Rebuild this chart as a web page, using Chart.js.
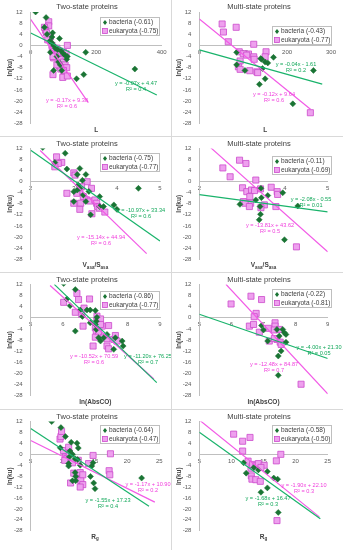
<!DOCTYPE html>
<html>
<head>
<meta charset="utf-8">
<script src="https://cdn.jsdelivr.net/npm/chart.js@4.4.0/dist/chart.umd.min.js"></script>
<style>
  body { margin: 0; background: #fff; }
  #grid {
    display: grid;
    grid-template-columns: 171px 171px;
    grid-template-rows: 136px 135px 136px 140px;
    gap: 1px;
    background: #d9d9d9;
    width: 343px;
    height: 550px;
  }
  .cell { background: #fff; }
  canvas { display: block; }
</style>
</head>
<body>
<div id="grid">
  <div class="cell"><canvas id="c0"></canvas></div>
  <div class="cell"><canvas id="c1"></canvas></div>
  <div class="cell"><canvas id="c2"></canvas></div>
  <div class="cell"><canvas id="c3"></canvas></div>
  <div class="cell"><canvas id="c4"></canvas></div>
  <div class="cell"><canvas id="c5"></canvas></div>
  <div class="cell"><canvas id="c6"></canvas></div>
  <div class="cell"><canvas id="c7"></canvas></div>
</div>
<script>
// ---- data ----
const panelTitles = ["Two-state proteins", "Multi-state proteins", "Two-state proteins", "Multi-state proteins",
  "Two-state proteins", "Multi-state proteins", "Two-state proteins", "Multi-state proteins"]
const yTitle = "ln(ku)"
// x axis titles, [text, isSubscript]
const xTitles = [
  [["L"]], [["L"]],
  [["V"], ["asa", 1], ["/S"], ["asa", 1]], [["V"], ["asa", 1], ["/S"], ["asa", 1]],
  [["ln(AbsCO)"]], [["ln(AbsCO)"]],
  [["R"], ["g", 1]], [["R"], ["g", 1]]
]
const xMin = [0, 0, 2, 2, 5, 5, 5, 5]
const xMax = [400, 300, 5, 5, 9, 9, 25, 25]
const xStep = [200, 100, 1, 1, 1, 1, 5, 5]
const yMin = -28, yMax = 12, yStep = 4

const bacteriaLabels = ["bacteria (-0.61)", "bacteria (-0.43)", "bacteria (-0.75)", "bacteria (-0.11)",
  "bacteria (-0.86)", "bacteria (-0.22)", "bacteria (-0.64)", "bacteria (-0.58)"]
const eukaryotaLabels = ["eukaryota (-0.75)", "eukaryota (-0.77)", "eukaryota (-0.77)", "eukaryota (-0.69)",
  "eukaryota (-0.77)", "eukaryota (-0.81)", "eukaryota (-0.47)", "eukaryota (-0.50)"]

const bacteriaEq = ["y = -0.07x + 4.47", "y = -0.04x - 1.61", "y = -10.97x + 33.34", "y = -2.08x - 0.55",
  "y = -11.20x + 76.25", "y = -4.00x + 21.30", "y = -1.55x + 17.23", "y = -1.68x + 16.47"]
const bacteriaR2 = ["R² = 0.4", "R² = 0.2", "R² = 0.6", "R² = 0.01", "R² = 0.7", "R² = 0.05", "R² = 0.4", "R² = 0.3"]
const eukaryotaEq = ["y = -0.17x + 9.38", "y = -0.12x + 9.64", "y = -15.14x + 44.94", "y = -13.81x + 43.62",
  "y = -10.52x + 70.59", "y = -12.48x + 84.87", "y = -1.17x + 10.90", "y = -1.90x + 22.10"]
const eukaryotaR2 = ["R² = 0.6", "R² = 0.6", "R² = 0.6", "R² = 0.5", "R² = 0.6", "R² = 0.7", "R² = 0.2", "R² = 0.3"]

// trendlines: slope, intercept, x from, x to
const bacteriaFit = [[-0.058, 4.47, 0, 385], [-0.044, -1.61, 0, 280], [-10.97, 33.34, 2, 5], [-2.08, -0.55, 2, 5],
  [-11.20, 76.25, 5.73, 8.9], [-4.00, 21.30, 5, 9], [-1.55, 17.23, 5, 23.4], [-1.68, 16.47, 5, 23.85]]
const eukaryotaFit = [[-0.17, 9.38, 0, 176], [-0.128, 9.5, 0, 254], [-15.14, 44.94, 2.22, 4.69], [-13.81, 43.62, 2.27, 5],
  [-10.52, 70.59, 5.6, 8.81], [-12.48, 84.87, 5.83, 9], [-1.17, 10.90, 5, 24.3], [-1.90, 22.10, 5, 23.7]]

const twoL_bac = [[15,12],[47,10],[42,6.5],[67,4.5],[50,4],[65,3],[88,2.5],[58,1.5],[64,1],[70,0],[75,-1],[82,-1.5],
  [93,-2],[60,-2.5],[100,-3],[105,-3.5],[80,-4],[110,-5],[85,-6],[90,-7],[70,-9],[95,-9],[140,-12],[162,-10.5],
  [168,-2.5],[318,-8.5],[112,-4]]
const twoL_euk = [[55,8.5],[55,7],[45,5.5],[42,6.5],[48,4.5],[60,3],[52,2],[65,0],[66,-1.5],[72,-1],[80,-1],[88,-2],
  [95,-3],[100,-2.5],[108,-3],[112,0],[70,-4.5],[68,-4],[90,-5],[100,-6],[105,-7],[88,-7.5],[92,-8.5],[110,-8],
  [100,-9],[68,-10.5],[98,-11.5],[112,-11],[80,-7]]

const multiL_bac = [[85,-2.5],[85,-7],[104,-9],[137,-14],[142,-5],[150,-12],[150,-6],[156,-6.3],[169,-4.3],[213,-21],
  [260,-9],[144,-8.3],[140,-4.7]]
const multiL_euk = [[52,7.7],[55,4.8],[66,1.3],[84,6.5],[91,-2.3],[93,-5.6],[89,-7.7],[93,-8.6],[112,-3.1],[115,-9.1],
  [124,0.4],[124,-4.1],[125,-5],[131,-9.5],[133,-9.8],[152,-2.3],[150,-4.1],[253,-24.2],[100,-3],[108,-3.5]]

const twoV_bac = [[2.28,12.4],[2.8,10.3],[2.56,7],[2.84,4.6],[3.14,4.8],[3.08,2.6],[3.28,2.6],[3.1,-1.2],[3.0,-3.6],
  [3.08,-3],[3.22,-4.8],[3.28,-7.2],[3.6,-5.4],[3.6,-9],[3.69,-9],[3.93,-8.4],[4.0,-10],[3.39,-12],[4.5,-2.4],
  [3.14,-2.4],[3.0,-7.2],[3.2,0.5],[3.35,-3.5]]
const twoV_euk = [[2.6,9],[2.72,7],[2.64,6.6],[2.56,5.4],[3.0,3.2],[3.03,2.4],[3.31,0],[3.18,-1.8],[3.14,-3.6],
  [3.07,-4.2],[2.84,-4.2],[3.41,-2.4],[3.22,-5.4],[3.3,-6.6],[3.38,-7],[3.49,-6.6],[3.53,-7.8],[3.55,-9],[3.59,-9.6],
  [3.0,-7.8],[3.16,-7.8],[3.14,-10],[3.42,-11.6],[3.72,-11]]

const multiV_bac = [[2.95,-8.2],[3.32,-6.6],[3.44,-2.4],[3.45,-5.8],[3.42,-9],[3.43,-11.8],[3.4,-13.8],[3.95,-4],
  [3.99,-21],[4.3,-8.8],[3.6,-5]]
const multiV_euk = [[2.55,5],[2.72,1.8],[2.94,7.8],[3.09,6.6],[3.01,-2.2],[3.11,-3.6],[3.22,-3],[3.29,-3.2],[3.18,-5.4],
  [3.2,-7.8],[3.03,-7.2],[3.07,-7.8],[3.17,-9],[3.32,0.6],[3.43,-2.6],[3.52,-8.4],[3.68,-2],[3.82,-3.6],[3.83,-4.6],
  [3.79,-9],[4.27,-23.6],[3.44,-9.4]]

const twoA_bac = [[6.02,12.4],[6.38,10.2],[6.12,6.8],[6.22,4.4],[6.53,2.8],[6.74,2.8],[6.84,2.8],[7.0,2.6],[7.05,0.2],
  [6.38,-4.8],[6.84,-1.8],[7.0,-2.4],[7.03,-4.2],[7.1,-7.2],[7.16,-8.4],[7.26,-7.2],[7.36,-6],[7.62,-7.2],[7.57,-11.4],
  [7.83,-8.4],[7.86,-10.2],[7.03,-1.2],[6.6,0.5]]
const twoA_euk = [[6.02,5.6],[6.43,8.8],[6.48,6.6],[6.82,6.8],[6.38,2],[6.58,1.2],[6.62,-3],[7.05,0.6],[7.05,-1.2],
  [7.16,-0.4],[7.21,-3],[7.0,-3.6],[7.03,-4.8],[7.1,-5.2],[7.41,-2.8],[7.0,-7],[7.26,-7],[7.36,-7.6],[7.57,-7.8],
  [7.62,-6.4],[7.67,-8.4],[7.36,-10.2],[7.41,-11.2],[6.93,-10.2],[7.16,-2.4],[6.65,3.5]]

const multiA_bac = [[6.94,-2.8],[7.0,-4.4],[7.13,-8.4],[7.6,-4.2],[7.49,-6.6],[7.65,-5.4],[7.7,-6],[7.7,-8.8],
  [7.55,-12],[7.46,-13.8],[7.46,-20.8],[7.42,-4.2]]
const multiA_euk = [[5.99,5],[6.61,7.8],[6.94,6.6],[6.77,1.6],[6.71,0.4],[6.56,-3],[6.69,-2.4],[6.87,-5.2],[7.15,-3.8],
  [7.18,-8.4],[7.36,-1.8],[7.36,-3],[7.34,-4.4],[7.42,-7.8],[7.49,-4.2],[7.52,-8.8],[7.55,-9.6],[8.17,-24],[7.34,-7.5]]

const twoR_bac = [[8.26,12],[9.7,9.8],[10.4,6.5],[11.3,4.4],[12.2,4.1],[12.4,2.3],[9.6,2.4],[11.1,1.2],[11.5,0],
  [11.0,-1],[11.9,-1.6],[12.3,-1.9],[10.9,-3.4],[10.9,-4.3],[12.7,-4],[14.5,-4.3],[14.3,-8.1],[14.7,-3.1],[11.9,-6.7],
  [12.0,-8.1],[11.5,-9.7],[12,-9.7],[14.8,-10.5],[15,-12.6],[22.25,-8.7]]
const twoR_euk = [[9.56,5.6],[9.7,6.5],[9.8,8.4],[10.1,1.4],[10.4,-1],[10.6,-1.6],[10.3,-2.2],[10.9,2.6],[12.4,-2.2],
  [11.5,-3.1],[11.7,-6.9],[11.2,-10.5],[12.7,-6.7],[12.7,-9.1],[12.8,-9.6],[13.1,-11.1],[12.7,-12],[13.1,-7.5],
  [14,-3.4],[14.7,-0.4],[17.4,0.2],[17.2,-6],[17.3,-7.5],[11.0,0.5]]

const multiR_bac = [[11.9,-3.1],[12.3,-6.9],[13.5,-4.8],[14.2,-5.7],[15.6,-6.3],[14.6,-13.9],[15.6,-12.3],[16.6,-8.7],
  [17.2,-9.1],[17.3,-21.3]]
const multiR_euk = [[10.35,7.4],[11.75,4.8],[12.9,6.2],[11.75,1.2],[12.6,-2.5],[13.05,-5.1],[13.3,-3.7],[13.8,-4.2],
  [14.2,-3.4],[15.1,-4],[13.1,-7.9],[13.2,-9.1],[13.8,-9.3],[14.5,-9.9],[17,-2.4],[17.7,0],[17.1,-24.3],[14.6,-4.8]]

const bacteriaSets = [twoL_bac, multiL_bac, twoV_bac, multiV_bac, twoA_bac, multiA_bac, twoR_bac, multiR_bac]
const eukaryotaSets = [twoL_euk, multiL_euk, twoV_euk, multiV_euk, twoA_euk, multiA_euk, twoR_euk, multiR_euk]

// ---- layout (pixels inside each panel) ----
const cellW = 171
const cellH = [136, 136, 135, 135, 136, 136, 140, 140]
const plotBox = [[30.7, 161.7, 12, 123.3], [27.3, 159, 12, 123.3], [30.7, 160, 11, 122], [27.3, 155.7, 11, 122],
  [30.7, 160, 11.3, 122.3], [27.3, 155.7, 11.3, 122.3], [30.7, 159.3, 9.3, 120.7], [27.3, 155.7, 9.3, 120.7]]
const legendTop = [17, 26, 16, 19, 18, 16, 15, 15]
const bacEqPos = [[136, 83], [124, 64], [141, 73], [139, 62], [148, 83], [147, 74], [108, 90], [96, 88]]
const eukEqPos = [[67, 100], [102, 94], [101, 100], [98, 88], [94, 83], [102, 91], [148, 74], [132, 75]]

const FONT = "'Liberation Sans', Arial, sans-serif"
const GREEN_PT = "#1a7434"
const GREEN_LINE = "#19b36b"
const GREEN_TXT = "#12a85a"
const PINK_FILL = "#eea0ee"
const PINK_EDGE = "#cc4acc"
const PINK_LINE = "#f25ae6"
const PINK_TXT = "#f03cdc"

function toPoints(arr) {
  return arr.map(p => ({ x: p[0], y: p[1] }))
}

function fitLine(f) {
  return [{ x: f[2], y: f[0] * f[2] + f[1] }, { x: f[3], y: f[0] * f[3] + f[1] }]
}

function drawRich(ctx, parts, cx, cy, size) {
  let w = 0
  parts.forEach(p => {
    ctx.font = `bold ${p[1] ? size * 0.7 : size}px ${FONT}`
    w += ctx.measureText(p[0]).width
  })
  let x = cx - w / 2
  ctx.textAlign = "left"
  ctx.textBaseline = "middle"
  parts.forEach(p => {
    const s = p[1] ? size * 0.7 : size
    ctx.font = `bold ${s}px ${FONT}`
    ctx.fillText(p[0], x, p[1] ? cy + size * 0.3 : cy)
    x += ctx.measureText(p[0]).width
  })
}

function drawDiamond(ctx, x, y, r) {
  ctx.beginPath()
  ctx.moveTo(x, y - r)
  ctx.lineTo(x + r * 0.8, y)
  ctx.lineTo(x, y + r)
  ctx.lineTo(x - r * 0.8, y)
  ctx.closePath()
  ctx.fillStyle = GREEN_PT
  ctx.fill()
}

function makeTextPlugin(i) {
  return {
    id: "panelText" + i,
    afterDraw(chart) {
      const ctx = chart.ctx
      const a = chart.chartArea
      ctx.save()
      // title
      ctx.fillStyle = "#404040"
      ctx.font = `7.5px ${FONT}`
      ctx.textAlign = "center"
      ctx.textBaseline = "middle"
      ctx.fillText(panelTitles[i], cellW / 2 + 1.5, 6.5)
      // y title
      ctx.save()
      ctx.translate(a.left - 20.5, (a.top + a.bottom) / 2)
      ctx.rotate(-Math.PI / 2)
      ctx.font = `bold 6.5px ${FONT}`
      ctx.fillText(yTitle, 0, 0)
      ctx.restore()
      // x title
      drawRich(ctx, xTitles[i], (a.left + a.right) / 2, a.bottom + 6.5, 6.5)

      // legend
      const lw = 60, lh = 19
      const lx = 160 - lw, ly = legendTop[i]
      ctx.fillStyle = "#fff"
      ctx.fillRect(lx, ly, lw, lh)
      ctx.strokeStyle = "#bfbfbf"
      ctx.lineWidth = 1
      ctx.strokeRect(lx + 0.5, ly + 0.5, lw - 1, lh - 1)
      drawDiamond(ctx, lx + 5, ly + 5.5, 2.5)
      ctx.fillStyle = PINK_FILL
      ctx.strokeStyle = PINK_EDGE
      ctx.lineWidth = 0.8
      ctx.fillRect(lx + 2.5, ly + 11.5, 5, 5)
      ctx.strokeRect(lx + 2.5, ly + 11.5, 5, 5)
      ctx.fillStyle = "#404040"
      ctx.font = `6.5px ${FONT}`
      ctx.textAlign = "left"
      ctx.textBaseline = "middle"
      ctx.fillText(bacteriaLabels[i], lx + 9, ly + 5.5)
      ctx.fillText(eukaryotaLabels[i], lx + 9, ly + 14)

      // trendline equations
      ctx.font = `5.6px ${FONT}`
      ctx.textAlign = "center"
      ctx.fillStyle = GREEN_TXT
      ctx.fillText(bacteriaEq[i], bacEqPos[i][0], bacEqPos[i][1])
      ctx.fillText(bacteriaR2[i], bacEqPos[i][0], bacEqPos[i][1] + 6.5)
      ctx.fillStyle = PINK_TXT
      ctx.fillText(eukaryotaEq[i], eukEqPos[i][0], eukEqPos[i][1])
      ctx.fillText(eukaryotaR2[i], eukEqPos[i][0], eukEqPos[i][1] + 6.5)
      ctx.restore()
    }
  }
}

for (let i = 0; i < 8; i++) {
  const canvas = document.getElementById("c" + i)
  canvas.width = cellW
  canvas.height = cellH[i]
  const box = plotBox[i]
  const yAxisWidth = 20

  new Chart(canvas.getContext("2d"), {
    type: "scatter",
    data: {
      datasets: [
        {
          type: "line",
          data: fitLine(bacteriaFit[i]),
          borderColor: GREEN_LINE,
          borderWidth: 1.2,
          pointRadius: 0,
          fill: false,
          order: 0
        },
        {
          type: "line",
          data: fitLine(eukaryotaFit[i]),
          borderColor: PINK_LINE,
          borderWidth: 1.2,
          pointRadius: 0,
          fill: false,
          order: 0
        },
        {
          label: bacteriaLabels[i],
          data: toPoints(bacteriaSets[i]),
          pointStyle: "rectRot",
          pointRadius: 3,
          backgroundColor: GREEN_PT,
          borderColor: GREEN_PT,
          borderWidth: 0.5,
          order: 1
        },
        {
          label: eukaryotaLabels[i],
          data: toPoints(eukaryotaSets[i]),
          pointStyle: "rect",
          pointRadius: 4.3,
          backgroundColor: PINK_FILL,
          borderColor: PINK_EDGE,
          borderWidth: 0.8,
          order: 2
        }
      ]
    },
    options: {
      responsive: false,
      animation: false,
      events: [],
      layout: {
        padding: {
          left: box[0] - yAxisWidth,
          right: cellW - box[1],
          top: box[2],
          bottom: cellH[i] - box[3]
        }
      },
      plugins: {
        legend: { display: false },
        tooltip: { enabled: false }
      },
      scales: {
        x: {
          type: "linear",
          position: { y: 0 },
          min: xMin[i],
          max: xMax[i],
          ticks: {
            stepSize: xStep[i],
            color: "#595959",
            font: { family: FONT, size: 6 },
            padding: 3,
            maxRotation: 0
          },
          grid: { display: false, drawTicks: false },
          border: { color: "#bfbfbf", width: 1 }
        },
        y: {
          position: "left",
          min: yMin,
          max: yMax,
          afterFit: s => { s.width = yAxisWidth },
          ticks: {
            stepSize: yStep,
            color: "#595959",
            font: { family: FONT, size: 6 },
            padding: 8
          },
          grid: { display: false, drawTicks: false },
          border: { color: "#bfbfbf", width: 1 }
        }
      }
    },
    plugins: [makeTextPlugin(i)]
  })
}
</script>
</body>
</html>
